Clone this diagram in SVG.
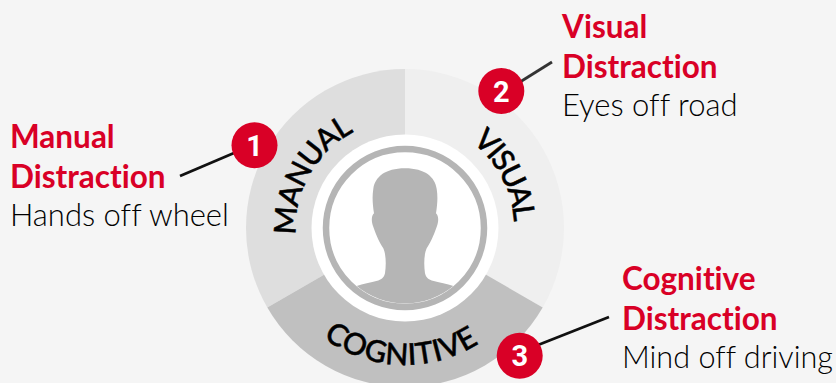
<svg xmlns="http://www.w3.org/2000/svg" xmlns:xlink="http://www.w3.org/1999/xlink" width="836" height="383" viewBox="0 0 836 383">
<style>
text{font-variant-ligatures:none}
.t{font-family:"Lato","Liberation Sans",sans-serif;font-size:31.500px;font-weight:700;fill:#d90026}
.s{font-family:"Lato","Liberation Sans",sans-serif;font-size:31px;font-weight:300;fill:#000}
.c{font-family:"Lato","Liberation Sans",sans-serif;font-size:30px;font-weight:500;fill:#000;stroke:#000;stroke-width:.5px}
.n{font-family:"Roboto","Liberation Sans",sans-serif;font-size:29px;font-weight:700;fill:#fff;text-anchor:middle}
.b{fill:#d90026}
.l{stroke:#111;stroke-width:2.800;fill:none}
</style>
<defs>
<path id="pm" d="M296.200 235A109 109 0 0 1 405 119"/>
<path id="pv" d="M472 142A109 109 0 0 1 514 228"/>
<path id="pc" d="M268 228A137 137 0 0 0 542 228"/>
</defs>
<rect width="836" height="383" fill="#f5f5f5"/>
<g id="wheel">
<path d="M405 228V69A159 159 0 0 0 267.300 307.500Z" fill="#dedede"/>
<path d="M405 228V69A159 159 0 0 1 542.700 307.500Z" fill="#efefef"/>
<path d="M405 228L267.300 307.500A159 159 0 0 0 542.700 307.500Z" fill="#c0c0c0"/>
</g>
<g id="center">
<circle cx="405" cy="228" r="93.500" fill="#fff"/>
<circle cx="405" cy="228" r="79" fill="#fff" stroke="#b5b5b5" stroke-width="6.500"/>
<path d="M405 168.300C425 168.300 435 177 436.700 189C438 197 437.300 205 436 213.300C439 216 438.500 222 437 226C435 232 432 240 426.700 248.300C424 254 423.700 265 425 273.300C426 278 429 279.500 431.700 280.500C440 282.500 447 284 453.300 286A75.700 75.700 0 0 1 356.700 286C363 284 370 282.500 378.300 280.500C381 279.500 384 278 385 273.300C386.300 265 386 254 383.300 248.300C378 240 375 232 373 226C371.500 222 371 216 374 213.300C372.700 205 372 197 373.300 189C375 177 385 168.300 405 168.300Z" fill="#b5b5b5"/>
</g>
<g id="labels">
<text class="c"><textPath href="#pm" xlink:href="#pm" textLength="125">MANUAL</textPath></text>
<text class="c"><textPath href="#pv" xlink:href="#pv" textLength="93">VISUAL</textPath></text>
<text class="c" transform="rotate(2 405 228)"><textPath href="#pc" xlink:href="#pc" startOffset="50%" text-anchor="middle" textLength="166">COGNITIVE</textPath></text>
</g>
<g id="connectors">
<line class="l" x1="180" y1="176" x2="234" y2="153"/>
<line class="l" x1="552" y1="62" x2="520" y2="82" stroke-opacity=".85"/>
<line class="l" x1="609" y1="317" x2="538" y2="345"/>
</g>
<g id="node1">
<circle class="b" cx="254.500" cy="145.300" r="23"/>
<text class="n" x="254.500" y="155.500">1</text>
<text class="t" x="10" y="148">Manual</text>
<text class="t" x="10" y="187.500">Distraction</text>
<text class="s" x="10" y="226">Hands off wheel</text>
</g>
<g id="node2">
<circle class="b" cx="501.300" cy="91" r="23"/>
<text class="n" x="501.300" y="101.500">2</text>
<text class="t" x="562" y="38">Visual</text>
<text class="t" x="562" y="77.500">Distraction</text>
<text class="s" x="562" y="116">Eyes off road</text>
</g>
<g id="node3">
<circle class="b" cx="519.700" cy="355.700" r="23"/>
<text class="n" x="519.700" y="366">3</text>
<text class="t" x="622" y="290">Cognitive</text>
<text class="t" x="622" y="329.500">Distraction</text>
<text class="s" x="622" y="368" textLength="211" lengthAdjust="spacingAndGlyphs">Mind off driving</text>
</g>
</svg>
